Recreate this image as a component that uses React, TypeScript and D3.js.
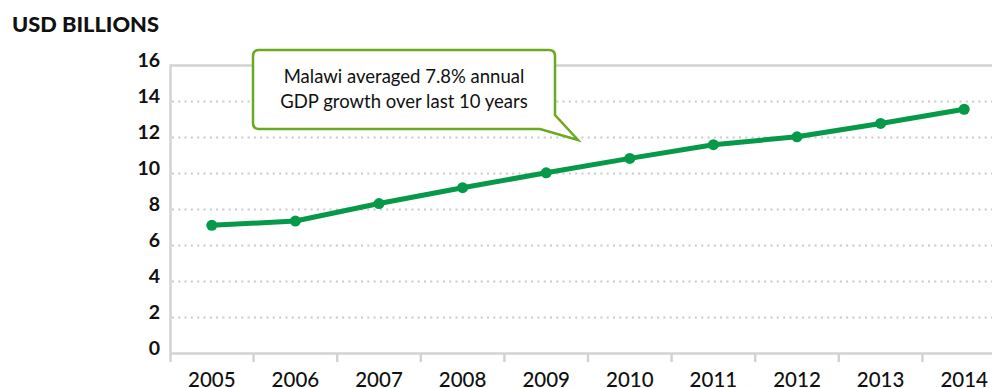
import React from "react";
import * as d3 from "d3";

const years = ["2005", "2006", "2007", "2008", "2009", "2010", "2011", "2012", "2013", "2014"];
const gdp = [7.12, 7.36, 8.33, 9.21, 10.04, 10.84, 11.6, 12.04, 12.78, 13.57];
const yTicks = [0, 2, 4, 6, 8, 10, 12, 14, 16];
const title = "USD BILLIONS";
const calloutLines = ["Malawi averaged 7.8% annual", "GDP growth over last 10 years"];

const W = 992;
const H = 388;
const GREEN = "#07994a";
const CALLOUT = "#6aaa22";
const GRAY = "#d3d3d3";
const FONT = "Lato, 'Open Sans', sans-serif";

export default function App() {
  const x = d3.scaleBand<string>().domain(years).range([170, 1006]);
  const y = d3.scaleLinear().domain([0, 16]).range([353.5, 65.5]);
  const line = d3
    .line<number>()
    .x((_, i) => (x(years[i]) as number) + x.bandwidth() / 2)
    .y((d) => y(d));

  // callout geometry
  const bx0 = 253, bx1 = 555, by0 = 50, by1 = 129, r = 6;
  const tip = [578, 140];
  const tailL = 540, tailTopY = 115;
  const calloutPath = [
    `M${bx0 + r},${by0}`,
    `H${bx1 - r}`,
    `Q${bx1},${by0} ${bx1},${by0 + r}`,
    `V${tailTopY}`,
    `L${tip[0]},${tip[1]}`,
    `L${tailL},${by1}`,
    `H${bx0 + r}`,
    `Q${bx0},${by1} ${bx0},${by1 - r}`,
    `V${by0 + r}`,
    `Q${bx0},${by0} ${bx0 + r},${by0}`,
    "Z",
  ].join(" ");

  return (
    <svg
      width={W}
      height={H}
      style={{ position: "absolute", left: 0, top: 0, background: "#fff" }}
      fontFamily={FONT}
    >
      <text
        x={12}
        y={31.5}
        fontSize={20.5}
        fontWeight={900}
        fill="#111"
        textLength={147}
        lengthAdjust="spacingAndGlyphs"
      >
        {title}
      </text>

      {/* gridlines */}
      {yTicks.filter((t) => t > 0 && t < 16).map((t) => (
        <line
          key={"g" + t}
          x1={172}
          x2={W}
          y1={y(t)}
          y2={y(t)}
          stroke="#c9c9c9"
          strokeWidth={2}
          strokeDasharray="2 4.3"
        />
      ))}
      {/* top border */}
      <line x1={170} x2={W} y1={y(16)} y2={y(16)} stroke={GRAY} strokeWidth={2.5} />
      {/* y axis */}
      <line x1={170.5} x2={170.5} y1={y(16) - 1} y2={362} stroke={GRAY} strokeWidth={2.5} />
      {/* x axis */}
      <line x1={170} x2={W} y1={y(0)} y2={y(0)} stroke={GRAY} strokeWidth={2.5} />
      {years.map((yr) => (
        <line
          key={"t" + yr}
          x1={(x(yr) as number) + x.bandwidth()}
          x2={(x(yr) as number) + x.bandwidth()}
          y1={y(0)}
          y2={362}
          stroke={GRAY}
          strokeWidth={2.5}
        />
      ))}

      {/* y tick labels */}
      {yTicks.map((t) => (
        <text
          key={"yl" + t}
          x={160}
          y={y(t) + 1}
          textAnchor="end"
          fontSize={19.5}
          fontWeight={700}
          fill="#111"
        >
          {t}
        </text>
      ))}

      {/* x tick labels */}
      {years.map((yr) => (
        <text
          key={"xl" + yr}
          x={(x(yr) as number) + x.bandwidth() / 2}
          y={386.5}
          textAnchor="middle"
          fontSize={20.5}
          fontWeight={500}
          fill="#111"
        >
          {yr}
        </text>
      ))}

      {/* data line */}
      <path d={line(gdp) || ""} fill="none" stroke={GREEN} strokeWidth={5} strokeLinejoin="round" />
      {gdp.map((v, i) => (
        <circle
          key={"p" + i}
          cx={(x(years[i]) as number) + x.bandwidth() / 2}
          cy={y(v)}
          r={5.5}
          fill={GREEN}
        />
      ))}

      {/* callout */}
      <path d={calloutPath} fill="#fff" stroke={CALLOUT} strokeWidth={2.5} strokeLinejoin="miter" />
      {calloutLines.map((l, i) => (
        <text
          key={"c" + i}
          x={404}
          y={83 + i * 25}
          textAnchor="middle"
          fontSize={18.5}
          fontWeight={400}
          fill="#111"
        >
          {l}
        </text>
      ))}
    </svg>
  );
}
